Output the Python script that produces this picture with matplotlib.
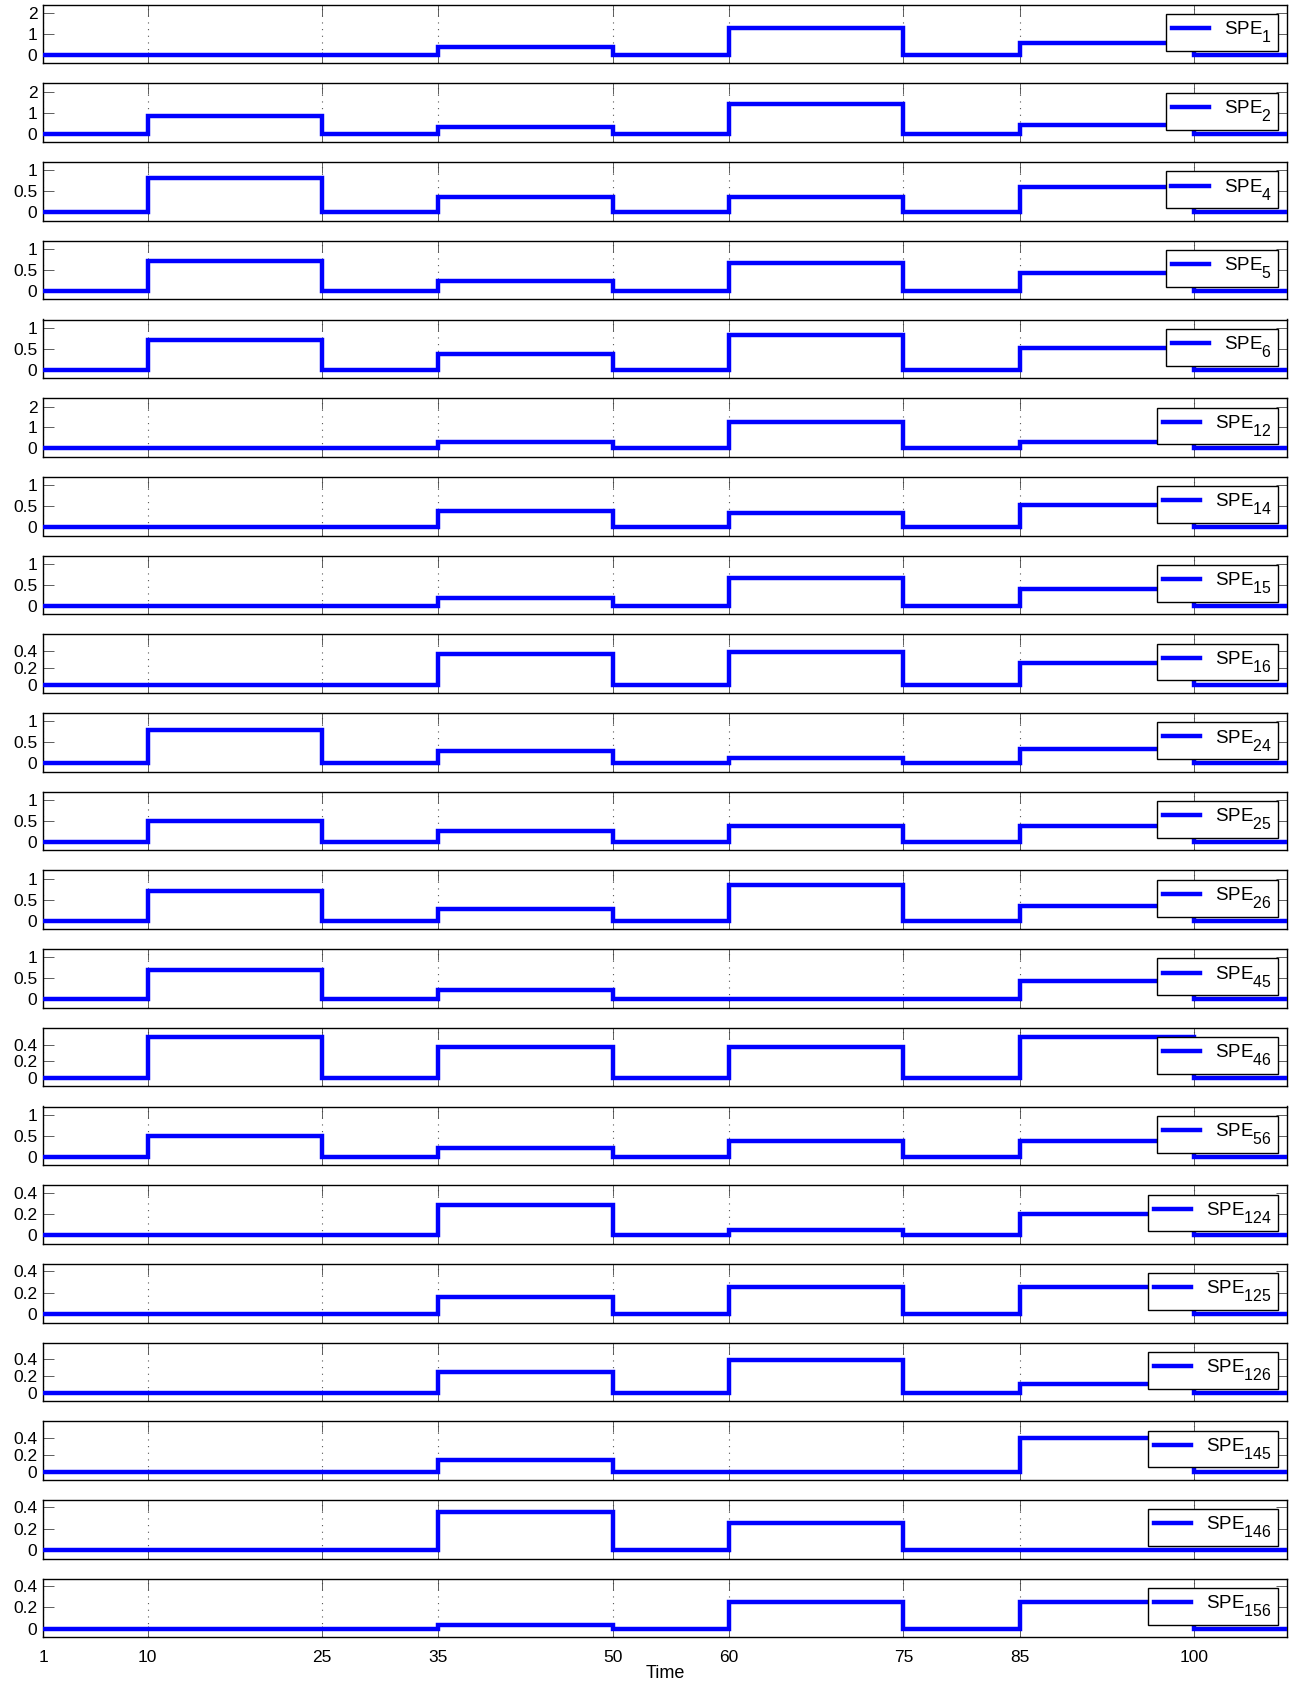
import matplotlib
matplotlib.use('Agg')
import matplotlib.pyplot as plt
from matplotlib.ticker import FuncFormatter

try:
    import matplotlib._mathtext as _mt
    _mt.SHRINK_FACTOR = 0.85
    _mt.FontConstantsBase.sub1 = 0.85
    _mt.FontConstantsBase.sub2 = 0.9
except Exception:
    pass

plt.rcParams['font.family'] = ['Liberation Sans', 'DejaVu Sans']
plt.rcParams['mathtext.fontset'] = 'custom'
plt.rcParams['mathtext.rm'] = 'Liberation Sans'
plt.rcParams['mathtext.it'] = 'Liberation Sans:italic'

# ---- data ----
labels = ['1', '2', '4', '5', '6', '12', '14', '15', '16', '24', '25', '26',
          '45', '46', '56', '124', '125', '126', '145', '146', '156']
edges = [1, 10, 25, 35, 50, 60, 75, 85, 100, 108]
phase_10_25 = [0, 0.85, 0.82, 0.71, 0.72, 0, 0, 0, 0, 0.80, 0.50, 0.70,
               0.69, 0.49, 0.50, 0, 0, 0, 0, 0, 0]
phase_35_50 = [0.38, 0.30, 0.37, 0.25, 0.38, 0.30, 0.38, 0.18, 0.36, 0.30, 0.25, 0.28,
               0.22, 0.37, 0.22, 0.28, 0.16, 0.25, 0.14, 0.36, 0.04]
phase_60_75 = [1.27, 1.40, 0.37, 0.67, 0.83, 1.25, 0.33, 0.66, 0.39, 0.13, 0.37, 0.84,
               0, 0.37, 0.37, 0.05, 0.25, 0.39, 0, 0.25, 0.25]
phase_85_100 = [0.55, 0.42, 0.61, 0.43, 0.52, 0.30, 0.52, 0.41, 0.26, 0.33, 0.37, 0.35,
                0.43, 0.49, 0.37, 0.20, 0.25, 0.10, 0.40, 0, 0.25]
y_upper = [2.4, 2.4, 1.2, 1.2, 1.2, 2.4, 1.2, 1.2, 0.6, 1.2, 1.2, 1.2,
           1.2, 0.6, 1.2, 0.47, 0.47, 0.6, 0.6, 0.47, 0.47]
y_lower = [-0.4, -0.4, -0.2, -0.2, -0.2, -0.4, -0.2, -0.2, -0.1, -0.2, -0.2, -0.2,
           -0.2, -0.1, -0.2, -0.08, -0.08, -0.1, -0.1, -0.08, -0.08]
x_ticks = [1, 10, 25, 35, 50, 60, 75, 85, 100]

W, H = 1295, 1687
fig = plt.figure(figsize=(W / 100, H / 100), dpi=100)

left_px, right_px = 43, 1287
top0, pitch, hgt = 4.7, 78.7, 58.6

fmt = FuncFormatter(lambda v, p: '%g' % v)

n = len(labels)
for i in range(n):
    top = top0 + pitch * i
    ax = fig.add_axes([left_px / W, 1 - (top + hgt) / H,
                       (right_px - left_px) / W, hgt / H])
    vals = [0, phase_10_25[i], 0, phase_35_50[i], 0, phase_60_75[i], 0,
            phase_85_100[i], 0]
    ax.stairs(vals, edges, baseline=None, color='#0000ff', linewidth=3.2,
              label='SPE$_{\\mathregular{%s}}$' % labels[i], zorder=3)
    ax.set_xlim(1, 108)
    ax.set_ylim(y_lower[i], y_upper[i])
    up = y_upper[i]
    if up > 2:
        yt = [0, 1, 2]
    elif up > 1:
        yt = [0, 0.5, 1]
    else:
        yt = [0, 0.2, 0.4]
    ax.set_yticks(yt)
    ax.yaxis.set_major_formatter(fmt)
    ax.set_xticks(x_ticks)
    ax.grid(True, axis='x', linestyle=(0, (1, 5)), color='#555555', linewidth=0.8)
    ax.tick_params(direction='in', length=8, width=0.6, color='#444444',
                   top=True, right=True, labelsize=12.5)
    ax.tick_params(axis='y', pad=4)
    ax.tick_params(axis='x', pad=9)
    for s in ax.spines.values():
        s.set_linewidth(1.0)
    if i < n - 1:
        ax.set_xticklabels([])
    else:
        ax.set_xlabel('Time', fontsize=13, labelpad=0)
    leg = ax.legend(loc='upper right', fontsize=13.5, frameon=True, fancybox=False,
                    framealpha=1, edgecolor='black', borderaxespad=0.5,
                    handlelength=2.0, handletextpad=0.8, borderpad=0.3)
    leg.get_frame().set_linewidth(1.0)
    leg.set_zorder(5)

fig.savefig('out.png', dpi=100)
